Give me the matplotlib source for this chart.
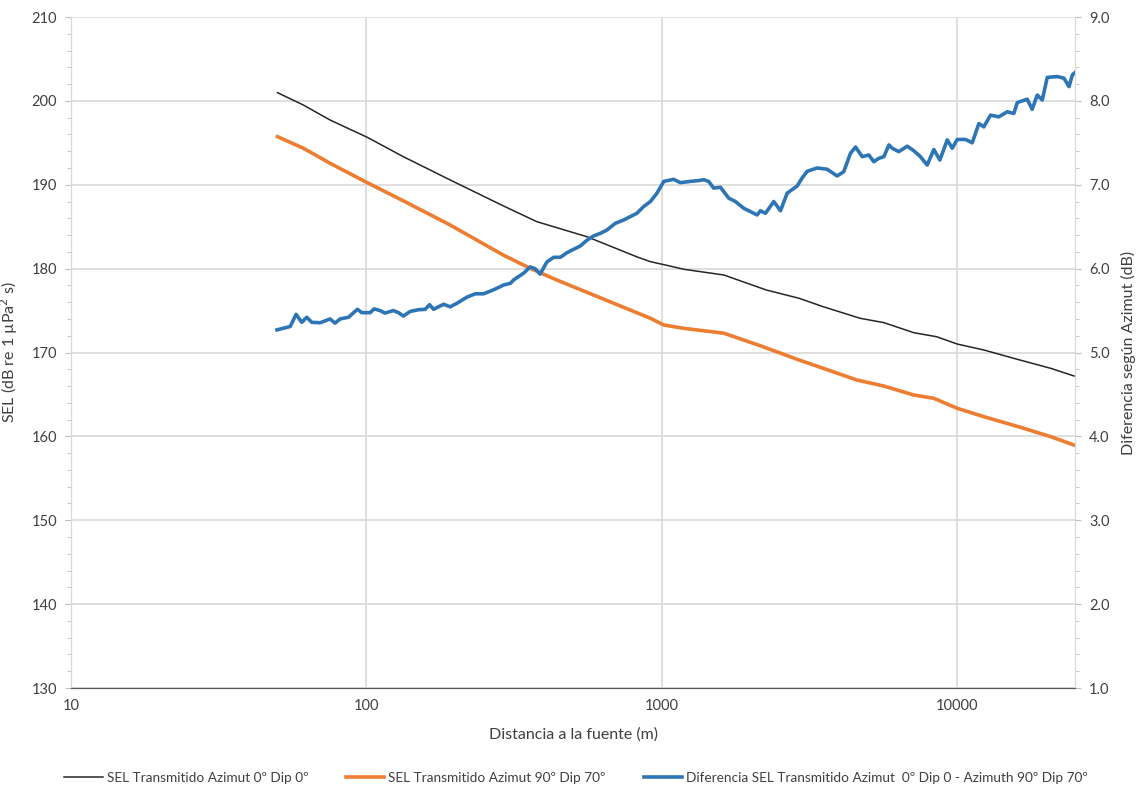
import matplotlib
matplotlib.use('Agg')

import matplotlib.pyplot as plt
from matplotlib.ticker import MultipleLocator, FixedLocator, FormatStrFormatter, NullLocator

plt.rcParams['font.family'] = ['Lato', 'DejaVu Sans']

# SEL Transmitido Azimut 0º Dip 0º
dist_negro = [50, 61.2, 75.3, 100.6, 133.4, 192, 291, 377, 558, 823, 914, 1037, 1187,
              1620, 2256, 2914, 3512, 4684, 5637, 7118, 8508, 9980, 12280, 15940,
              20700, 24800]
sel_negro = [200.98, 199.5, 197.72, 195.66, 193.34, 190.57, 187.47, 185.6, 183.8, 181.4,
             180.83, 180.4, 179.92, 179.24, 177.45, 176.46, 175.46, 174.08, 173.56,
             172.36, 171.88, 171.01, 170.3, 169.19, 168.11, 167.2]

# SEL Transmitido Azimut 90º Dip 70º
dist_naranja = [50, 61.2, 75.3, 100.6, 133, 192, 291, 358, 441, 914, 1014, 1187, 1620,
                2154, 2914, 3512, 4568, 5637, 7118, 8318, 9980, 12280, 16350, 20700,
                24800]
sel_naranja = [195.73, 194.35, 192.56, 190.25, 188.1, 185.2, 181.6, 180.04, 178.64,
               174.08, 173.28, 172.88, 172.3, 170.8, 169.1, 168.12, 166.72, 166.0,
               164.93, 164.54, 163.35, 162.35, 161.08, 159.96, 158.97]

# Diferencia SEL (eje derecho)
dist_dif = [49.8, 52.4, 55.2, 57.8, 60.4, 62.8, 65.3, 69.7, 75.3, 78.3, 81.4, 86.9, 93.2,
            96.4, 102.9, 106.1, 111.2, 115.5, 123.4, 128.3, 133.4, 140.6, 150, 158,
            163.5, 168.7, 182.4, 192, 202, 218.8, 233.4, 249, 266, 283.7, 291, 307,
            314.7, 340, 358, 372, 387, 408, 430, 453, 477, 502, 529, 558, 587, 618,
            651, 695, 742, 781, 823, 867, 914, 962, 1014, 1095, 1154, 1247, 1331, 1384,
            1439, 1496, 1577, 1683, 1773, 1891, 1993, 2099, 2154, 2240, 2390, 2518,
            2653, 2868, 2980, 3099, 3350, 3622, 3915, 4121, 4345, 4519, 4761, 5012,
            5210, 5418, 5637, 5862, 6017, 6332, 6763, 7118, 7492, 7900, 8318, 8720,
            9237, 9603, 9980, 10651, 11220, 11817, 12280, 12940, 13800, 14740, 15520,
            15940, 17220, 17900, 18620, 19360, 20130, 21780, 22940, 23850, 24490, 24940]
dif = [5.27, 5.29, 5.31, 5.455, 5.36, 5.42, 5.36, 5.355, 5.40, 5.35, 5.40, 5.42, 5.515,
       5.475, 5.475, 5.52, 5.50, 5.47, 5.50, 5.475, 5.435, 5.49, 5.51, 5.515, 5.57,
       5.515, 5.575, 5.545, 5.585, 5.66, 5.70, 5.70, 5.74, 5.785, 5.805, 5.825, 5.865,
       5.945, 6.02, 6.00, 5.935, 6.08, 6.135, 6.135, 6.19, 6.23, 6.27, 6.34, 6.39, 6.42,
       6.46, 6.54, 6.58, 6.62, 6.66, 6.74, 6.80, 6.90, 7.04, 7.065, 7.025, 7.04, 7.05,
       7.06, 7.04, 6.96, 6.97, 6.84, 6.80, 6.72, 6.68, 6.64, 6.69, 6.66, 6.80, 6.69,
       6.90, 6.985, 7.08, 7.16, 7.20, 7.185, 7.105, 7.155, 7.375, 7.45, 7.335, 7.355,
       7.275, 7.315, 7.335, 7.475, 7.435, 7.395, 7.46, 7.405, 7.335, 7.235, 7.42, 7.295,
       7.535, 7.435, 7.54, 7.54, 7.50, 7.73, 7.69, 7.83, 7.81, 7.87, 7.85, 7.98, 8.02,
       7.90, 8.07, 8.01, 8.28, 8.29, 8.27, 8.17, 8.31, 8.335]

x_ticks = [10, 100, 1000, 10000]
x_tick_labels = ['10', '100', '1000', '10000']

C_NEGRO = '#262626'
C_NARANJA = '#ED7D31'
C_AZUL = '#2E75B6'
C_GRID = '#d9d9d9'
C_TXT = '#404040'

fig = plt.figure(figsize=(11.41, 7.91), dpi=100)
ax = fig.add_axes([0.0622, 0.1302, 0.88, 0.8483])
ax2 = ax.twinx()

l1, = ax.plot(dist_negro, sel_negro, color=C_NEGRO, lw=1.1,
              label='SEL Transmitido Azimut 0º Dip 0º')
l2, = ax.plot(dist_naranja, sel_naranja, color=C_NARANJA, lw=2.6,
              label='SEL Transmitido Azimut 90º Dip 70º')
l3, = ax2.plot(dist_dif, dif, color=C_AZUL, lw=2.6,
               label='Diferencia SEL Transmitido Azimut  0º Dip 0 - Azimuth 90º Dip 70º')

ax.set_xscale('log')
ax.set_xlim(10, 25000)
ax.set_ylim(130, 210)
ax2.set_ylim(1, 9)

ax.xaxis.set_major_locator(FixedLocator(x_ticks))
ax.set_xticklabels(x_tick_labels)
ax.xaxis.set_minor_locator(NullLocator())
ax.yaxis.set_major_locator(MultipleLocator(10))
ax.yaxis.set_minor_locator(MultipleLocator(2))
ax2.yaxis.set_major_locator(MultipleLocator(1))
ax2.yaxis.set_minor_locator(MultipleLocator(0.2))
ax2.yaxis.set_major_formatter(FormatStrFormatter('%.1f'))

ax.grid(True, which='major', color=C_GRID, lw=1.2)
ax.set_axisbelow(True)

for a in (ax, ax2):
    a.spines['top'].set_visible(False)
    a.spines['left'].set_color(C_GRID)
    a.spines['right'].set_color(C_GRID)
    a.spines['bottom'].set_color('#595959')
    a.tick_params(axis='both', which='both', colors='#bfbfbf', labelcolor=C_TXT,
                  labelsize=10.5)
ax.tick_params(axis='x', length=0, pad=8)
ax.tick_params(axis='y', which='major', length=4, pad=6)
ax.tick_params(axis='y', which='minor', length=3)
ax2.tick_params(axis='y', which='major', length=4, pad=6)
ax2.tick_params(axis='y', which='minor', length=3)

ax.set_xlabel('Distancia a la fuente (m)', fontsize=11.5, color=C_TXT, labelpad=10)
ax.set_ylabel('SEL (dB re 1 µPa$^2$ s)', fontsize=11.5, color=C_TXT, labelpad=8)
ax2.set_ylabel('Diferencia según Azimut (dB)', fontsize=11.5, color=C_TXT, labelpad=8)

fig.legend(handles=[l1, l2, l3], loc='center', bbox_to_anchor=(0.505, 0.017), ncol=3,
           frameon=False, fontsize=9.8, handlelength=2.8, columnspacing=2.8,
           handletextpad=0.3, labelcolor=C_TXT)

fig.savefig('out.png', dpi=100)
